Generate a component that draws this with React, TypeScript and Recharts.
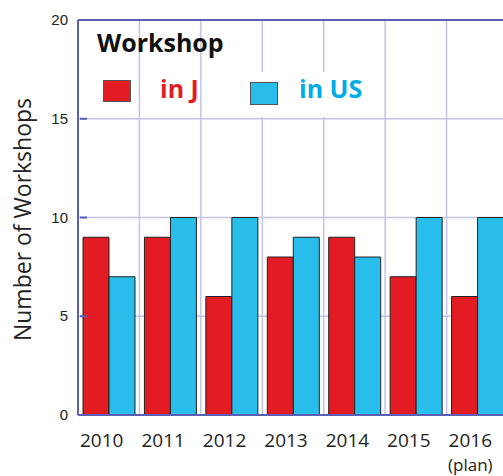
import React from 'react';
import { BarChart, Bar, XAxis, YAxis, CartesianGrid, Legend, ReferenceLine } from 'recharts';

const years = ['2010', '2011', '2012', '2013', '2014', '2015', '2016'];
const yearNotes = ['', '', '', '', '', '', '(plan)'];
const inJ = [9, 9, 6, 8, 9, 7, 6];
const inUS = [7, 10, 10, 9, 8, 10, 10];
const yTicks = [0, 5, 10, 15, 20];

const data = years.map((year, i) => ({ year, note: yearNotes[i], j: inJ[i], us: inUS[i] }));

const RED = '#e31b23';
const BLUE = '#29bdec';
const AXIS = '#5b5fb3';
const GRID = '#c3c3e6';
const FONT = 'Open Sans, sans-serif';

const YearTick = (props: any) => {
  const { x, y, payload, index } = props;
  const note = yearNotes[index];
  return (
    <g>
      <text x={x - 7} y={y + 24} textAnchor="middle" fontSize={19} fill="#222" fontFamily={FONT}>
        {payload.value}
      </text>
      {note ? (
        <text x={x - 7} y={y + 48} textAnchor="middle" fontSize={17} fill="#222" fontFamily={FONT}>
          {note}
        </text>
      ) : null}
    </g>
  );
};

const YTick = (props: any) => {
  const { x, y, payload } = props;
  return (
    <g>
      <line x1={x + 10} x2={x + 17} y1={y} y2={y} stroke={AXIS} strokeWidth={2} />
      <text x={x - 2} y={y} dy={5} textAnchor="end" fontSize={15} fill="#222" fontFamily="Liberation Sans, sans-serif">
        {payload.value}
      </text>
    </g>
  );
};

const YLabel = (props: any) => {
  const { viewBox } = props;
  const cx = viewBox.x - 6;
  const cy = viewBox.y + viewBox.height / 2 + 2;
  return (
    <text
      x={cx}
      y={cy}
      transform={`rotate(-90 ${cx} ${cy})`}
      textAnchor="middle"
      dominantBaseline="central"
      fontSize={23}
      fill="#222"
      fontFamily={FONT}
    >
      Number of Workshops
    </text>
  );
};

const LegendBox = () => (
  <div style={{ position: 'relative', width: 300, height: 95, fontFamily: FONT, lineHeight: 1 }}>
    <div style={{ position: 'absolute', left: 0, top: 0, fontSize: 25, fontWeight: 700, color: '#111' }}>Workshop</div>
    <div style={{ position: 'absolute', left: 118, top: 42, width: 168, height: 45, background: '#fff' }} />
    <div style={{ position: 'absolute', left: 6, top: 50, width: 26, height: 20, background: RED, border: '1px solid #555' }} />
    <div style={{ position: 'absolute', left: 63, top: 46, fontSize: 25, fontWeight: 700, color: RED }}>in J</div>
    <div style={{ position: 'absolute', left: 153, top: 52, width: 26, height: 21, background: BLUE, border: '1px solid #555' }} />
    <div style={{ position: 'absolute', left: 202, top: 46, fontSize: 25, fontWeight: 700, color: '#00ace6' }}>in US</div>
  </div>
);

export default function App() {
  return (
    <div style={{ position: 'absolute', left: 0, top: 0, width: 503, height: 476, overflow: 'hidden', background: '#fff' }}>
      <BarChart
        width={520}
        height={476}
        data={data}
        margin={{ top: 20, right: 12, bottom: 11, left: 28 }}
        barGap={0}
        barCategoryGap={5}
      >
        <CartesianGrid
          stroke={GRID}
          strokeWidth={1.5}
          verticalCoordinatesGenerator={({ offset }: any) =>
            years.map((_, i) => offset.left + (i * offset.width) / years.length).concat(offset.left + offset.width)
          }
        />
        <XAxis
          dataKey="year"
          height={50}
          interval={0}
          tick={<YearTick />}
          tickLine={false}
          axisLine={{ stroke: AXIS, strokeWidth: 2 }}
        />
        <YAxis
          domain={[0, 20]}
          ticks={yTicks}
          width={50}
          tickLine={false}
          axisLine={{ stroke: AXIS, strokeWidth: 2 }}
          tick={<YTick />}
          label={<YLabel />}
        />
        <ReferenceLine y={20} stroke={AXIS} strokeWidth={2} />
        <Legend
          layout="horizontal"
          verticalAlign="middle"
          align="center"
          content={<LegendBox />}
          wrapperStyle={{ left: 97, top: 30, width: 300, height: 95 }}
        />
        <Bar dataKey="j" name="in J" fill={RED} stroke="#222" strokeWidth={1} isAnimationActive={false} />
        <Bar dataKey="us" name="in US" fill={BLUE} stroke="#222" strokeWidth={1} isAnimationActive={false} />
      </BarChart>
    </div>
  );
}
